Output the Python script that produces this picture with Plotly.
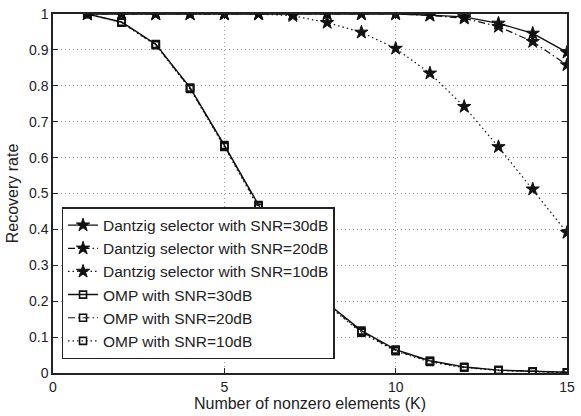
import plotly.graph_objects as go

K = list(range(1, 16))
dz30 = [1, 1, 1, 1, 1, 1, 1, 1, 1, 1, 0.997, 0.992, 0.974, 0.946, 0.893]
dz20 = [1, 1, 1, 1, 1, 1, 1, 1, 1, 1, 0.996, 0.988, 0.965, 0.923, 0.858]
dz10 = [1, 1, 1, 1, 1, 1, 0.995, 0.976, 0.949, 0.904, 0.835, 0.742, 0.630, 0.512, 0.391]
omp30 = [1, 0.978, 0.916, 0.795, 0.635, 0.468, 0.31, 0.195, 0.118, 0.065, 0.034, 0.017, 0.008, 0.004, 0.002]
omp20 = [1, 0.977, 0.915, 0.793, 0.633, 0.465, 0.308, 0.193, 0.115, 0.063, 0.033, 0.016, 0.008, 0.004, 0.002]
omp10 = [1, 0.976, 0.913, 0.791, 0.630, 0.460, 0.305, 0.190, 0.112, 0.061, 0.031, 0.015, 0.007, 0.003, 0.001]

x_ticks = [0, 5, 10, 15]
x_labels = ["0", "5", "10", "15"]
y_ticks = [i / 10 for i in range(11)]
y_labels = ["0", "0.1", "0.2", "0.3", "0.4", "0.5", "0.6", "0.7", "0.8", "0.9", "1"]

DASHES = {"solid": "solid", "dashdot": "7px,3px,1.5px,3px", "dot": "1.5px,3px"}

series = [
    ("Dantzig selector with SNR=30dB", dz30, "solid", "star"),
    ("Dantzig selector with SNR=20dB", dz20, "dashdot", "star"),
    ("Dantzig selector with SNR=10dB", dz10, "dot", "star"),
    ("OMP with SNR=30dB", omp30, "solid", "square-open"),
    ("OMP with SNR=20dB", omp20, "dashdot", "square-open"),
    ("OMP with SNR=10dB", omp10, "dot", "square-open"),
]

fig = go.Figure()
for name, ys, dash, sym in series:
    if sym == "star":
        marker = dict(symbol="star", size=10, color="#111", line=dict(color="#111", width=1))
    else:
        marker = dict(symbol="square-open", size=7, color="#111", line=dict(color="#111", width=1.6))
    fig.add_trace(go.Scatter(
        x=K, y=ys, name=name, mode="lines+markers",
        line=dict(color="#111", width=1.4 if dash == "solid" else 1.2, dash=DASHES[dash]),
        marker=marker,
    ))

fig.update_layout(
    width=581, height=416,
    margin=dict(l=53, r=6, t=14, b=43),
    paper_bgcolor="white", plot_bgcolor="white",
    font=dict(family="Liberation Sans, Arial, sans-serif", size=14, color="#222"),
    xaxis=dict(
        range=[0, 15], tickvals=x_ticks, ticktext=x_labels,
        showgrid=True, gridcolor="#999999", griddash="1px,3px", gridwidth=1,
        showline=True, linecolor="#222", linewidth=1.5, mirror="ticks",
        ticks="inside", ticklen=5, tickcolor="#222", zeroline=False,
        tickfont=dict(size=14),
        title=dict(text="Number of nonzero elements (K)", standoff=2, font=dict(size=16)),
    ),
    yaxis=dict(
        range=[0, 1], tickvals=y_ticks, ticktext=y_labels,
        showgrid=True, gridcolor="#999999", griddash="1px,3px", gridwidth=1,
        showline=True, linecolor="#222", linewidth=1.5, mirror="ticks",
        ticks="inside", ticklen=5, tickcolor="#222", zeroline=False,
        tickfont=dict(size=14),
        title=dict(text="Recovery rate", standoff=6, font=dict(size=16)),
    ),
    legend=dict(
        x=0.017, y=0.25, xanchor="left", yanchor="middle",
        bgcolor="white", bordercolor="#222", borderwidth=1.3,
        font=dict(size=15.5, color="#222"), tracegroupgap=0,
        itemwidth=30,
    ),
    showlegend=True,
)

fig.write_html("out.html", config={"displayModeBar": False},
               post_script="document.body.style.margin='0';")
